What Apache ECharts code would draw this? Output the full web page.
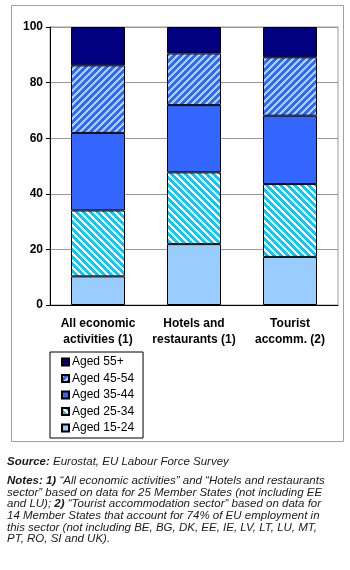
<!DOCTYPE html>
<html>
<head>
<meta charset="utf-8">
<script src="https://cdn.jsdelivr.net/npm/echarts@6/dist/echarts.min.js"></script>
<style>
  html, body { margin: 0; padding: 0; background: #fff; }
  #chart { width: 350px; height: 570px; }
</style>
</head>
<body>
<div id="chart"></div>
<script>
// Employment by age group, share of persons employed (%)
const categories = ['All economic\nactivities (1)', 'Hotels and\nrestaurants (1)', 'Tourist\naccomm. (2)'];
const aged1524 = [10.3, 21.9, 17.3];
const aged2534 = [23.7, 25.8, 26.2];
const aged3544 = [27.9, 24.2, 24.6];
const aged4554 = [24.3, 18.6, 21.0];
const aged55 = [13.8, 9.5, 10.9];
const seriesNames = ['Aged 15-24', 'Aged 25-34', 'Aged 35-44', 'Aged 45-54', 'Aged 55+'];
const yTicks = [0, 20, 40, 60, 80, 100];

// Diagonal stripe tile; dir 1 = rising '/', dir -1 = falling '\'
function stripes(bg, fg, dir) {
  const n = 7, c = document.createElement('canvas');
  c.width = n; c.height = n;
  const g = c.getContext('2d');
  g.fillStyle = bg; g.fillRect(0, 0, n, n);
  g.fillStyle = fg;
  for (let x = 0; x < n; x++) {
    for (let y = 0; y < n; y++) {
      const k = dir > 0 ? (x + y) : (x - y + n);
      if (k % n < 3) g.fillRect(x, y, 1, 1);
    }
  }
  return { image: c, repeat: 'repeat' };
}

const fills = [
  '#99ccff',
  stripes('#00ccff', '#ffffff', -1),
  '#3366ff',
  stripes('#3366ff', '#a6d4ff', 1),
  '#000080'
];
const values = [aged1524, aged2534, aged3544, aged4554, aged55];

const chart = echarts.init(document.getElementById('chart'), null, { renderer: 'canvas' });

const notes = [
  '{b|Notes: 1)} “All economic activities” and “Hotels and restaurants',
  'sector” based on data for 25 Member States (not including EE',
  'and LU); {b|2)} “Tourist accommodation sector” based on data for',
  '14 Member States that account for 74% of EU employment in',
  'this sector (not including BE, BG, DK, EE, IE, LV, LT, LU, MT,',
  'PT, RO, SI and UK).'
].join('\n');

const noteFont = 'italic 11.5px "Liberation Sans", Arial, sans-serif';
const boldRich = { fontWeight: 'bold', fontStyle: 'italic', fontSize: 11.5, fontFamily: 'Liberation Sans', fill: '#1a1a1a', lineHeight: 11.6 };

chart.setOption({
  animation: false,
  grid: {
    left: 50, right: 12, top: 27, bottom: 265,
    show: true, borderColor: '#999', borderWidth: 1
  },
  legend: {
    orient: 'vertical',
    left: 50, top: 352,
    data: seriesNames.slice().reverse(),
    icon: 'rect',
    itemWidth: 7, itemHeight: 7,
    itemGap: 4.5,
    padding: [4, 9, 4, 11],
    borderColor: '#000', borderWidth: 1,
    textStyle: { fontFamily: 'Liberation Sans, Arial, sans-serif', fontSize: 12, color: '#000', padding: [0, 0, 0, -2] }
  },
  xAxis: {
    type: 'category',
    data: categories,
    axisLine: { lineStyle: { color: '#000', width: 1 } },
    axisTick: { show: false },
    axisLabel: {
      interval: 0,
      hideOverlap: false,
      fontFamily: 'Liberation Sans, Arial, sans-serif',
      fontSize: 12, fontWeight: 'bold', color: '#000',
      lineHeight: 16, margin: 11
    }
  },
  yAxis: {
    type: 'value',
    min: yTicks[0], max: yTicks[yTicks.length - 1], interval: 20,
    axisLine: { show: true, lineStyle: { color: '#000', width: 1 } },
    axisTick: { show: true, length: 4, lineStyle: { color: '#000' } },
    splitLine: { lineStyle: { color: '#999', width: 1 } },
    axisLabel: {
      fontFamily: 'Liberation Sans, Arial, sans-serif',
      fontSize: 12, fontWeight: 'bold', color: '#000', margin: 7
    }
  },
  series: seriesNames.map((name, i) => ({
    name: name,
    type: 'bar',
    stack: 'age',
    barWidth: 54,
    data: values[i],
    itemStyle: { color: fills[i], borderColor: '#000', borderWidth: 1 }
  })),
  graphic: [
    {
      type: 'rect', silent: true, z: -1,
      shape: { x: 11.5, y: 5.5, width: 332, height: 436 },
      style: { fill: 'none', stroke: '#a0a0a0', lineWidth: 1 }
    },
    {
      type: 'text', left: 7, top: 456,
      style: {
        text: '{b|Source:} Eurostat, EU Labour Force Survey',
        font: noteFont,
        fill: '#1a1a1a',
        rich: { b: boldRich }
      }
    },
    {
      type: 'text', left: 7, top: 475,
      style: {
        text: notes,
        font: noteFont,
        fill: '#1a1a1a',
        lineHeight: 11.6,
        rich: { b: boldRich }
      }
    }
  ]
});
</script>
</body>
</html>
